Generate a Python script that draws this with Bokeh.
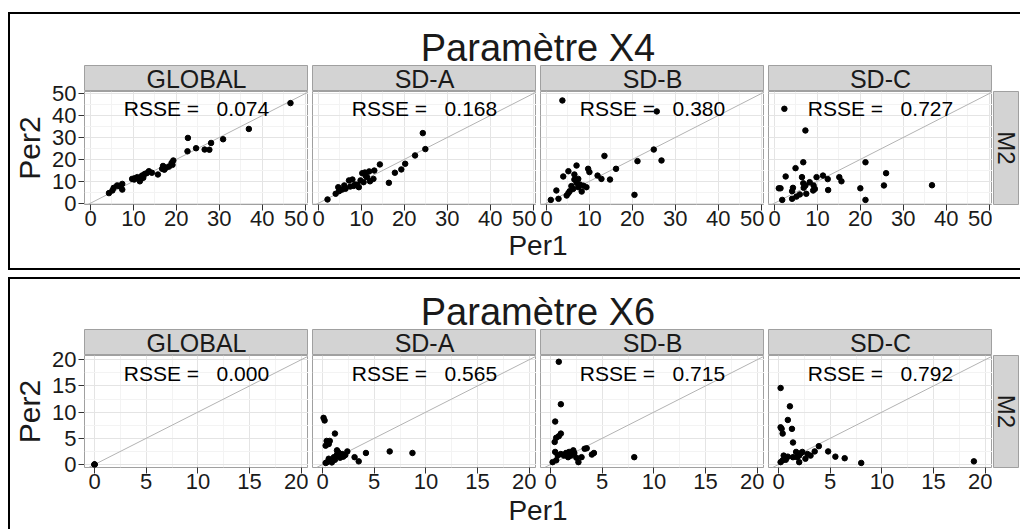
import math
from bokeh.plotting import figure
from bokeh.layouts import row, column
from bokeh.models import Range1d, FixedTicker, Slope, Spacer, Div
from bokeh.core.properties import value
from bokeh.core.validation import silence
from bokeh.core.validation.warnings import MISSING_RENDERERS
from bokeh.embed import file_html
from bokeh.resources import INLINE

silence(MISSING_RENDERERS, True)

# ---------------- data ----------------
facets = ["GLOBAL", "SD-A", "SD-B", "SD-C"]
row_label = "M2"
titles = ["Paramètre X4", "Paramètre X6"]
x_label = "Per1"
y_label = "Per2"
x4_ticks = [0, 10, 20, 30, 40, 50]
x4_minor = [5, 15, 25, 35, 45]
x6_ticks = [0, 5, 10, 15, 20]
x6_minor = [2.5, 7.5, 12.5, 17.5]
rsse_x4 = [0.074, 0.168, 0.380, 0.727]
rsse_x6 = [0.000, 0.565, 0.715, 0.792]

x4_global_per1 = [46.6, 36.9, 30.9, 28.1, 26.6, 27.7, 24.6, 22.7, 22.6, 19.3, 19.1, 18.9, 18.3, 17.6,
                  16.9, 16.7, 17.2, 15.7, 13.6, 13.1, 12.6, 12.0, 11.5, 11.8, 10.9, 10.3, 9.7, 10.2,
                  7.4, 7.0, 6.2, 7.4, 6.6, 5.4, 5.1, 4.3, 14.3, 12.3]
x4_global_per2 = [45.7, 33.9, 29.2, 27.5, 24.5, 24.4, 25.1, 29.8, 23.7, 19.5, 17.5, 18.4, 16.7, 16.2,
                  17.0, 15.7, 15.3, 13.1, 14.6, 13.7, 13.3, 12.6, 10.0, 11.2, 11.9, 11.4, 11.1, 10.8,
                  8.8, 7.6, 8.1, 6.2, 7.9, 7.0, 5.8, 4.6, 13.9, 11.6]

x4_sda_per1 = [24.3, 24.9, 22.5, 20.2, 19.3, 17.8, 16.4, 14.3, 13.0, 11.8, 10.8, 10.2, 12.8, 12.0,
               11.3, 9.8, 9.4, 8.6, 7.9, 7.1, 7.4, 6.0, 4.6, 4.8, 4.0, 2.1, 6.3, 8.2, 9.0, 5.5,
               10.5, 11.0]
x4_sda_per2 = [32.0, 24.7, 21.8, 18.0, 15.4, 13.9, 9.3, 17.7, 14.9, 14.5, 14.0, 13.7, 11.1, 10.0,
               11.9, 10.4, 7.3, 8.5, 10.8, 10.4, 7.6, 8.1, 7.3, 5.5, 4.3, 1.7, 6.6, 7.9, 8.4, 6.2,
               9.6, 12.5]

x4_sdb_per1 = [3.7, 25.7, 25.0, 26.8, 21.2, 13.5, 16.2, 20.5, 14.8, 12.8, 11.9, 9.7, 10.0, 7.0,
               5.1, 3.9, 6.5, 6.5, 7.4, 7.0, 7.8, 9.3, 8.2, 5.8, 5.4, 4.7, 5.1, 2.3, 2.8, 1.0,
               7.4, 6.2, 8.6]
x4_sdb_per2 = [46.9, 41.9, 24.5, 19.5, 19.2, 21.6, 15.7, 3.8, 10.8, 11.1, 12.6, 15.7, 14.2, 17.2,
               14.6, 12.2, 13.1, 10.8, 11.1, 9.3, 8.5, 7.3, 5.3, 7.8, 5.5, 3.5, 4.6, 5.8, 2.0, 1.5,
               7.3, 6.5, 8.0]

x4_sdc_per1 = [2.3, 7.2, 6.7, 4.9, 2.6, 6.4, 6.7, 7.2, 6.8, 8.2, 9.1, 9.4, 9.8, 11.3, 12.4, 15.1,
               15.6, 21.2, 26.0, 25.5, 20.0, 21.2, 36.7, 12.5, 1.4, 1.0, 4.3, 4.1, 4.1, 5.1, 5.9,
               1.8, 7.4, 9.0]
x4_sdc_per2 = [43.1, 33.2, 18.7, 16.0, 12.2, 11.9, 9.1, 8.1, 7.0, 9.6, 8.1, 6.5, 11.9, 12.6, 11.0,
               11.9, 10.0, 18.7, 13.7, 8.1, 6.8, 1.5, 8.2, 6.0, 6.8, 6.8, 7.0, 5.5, 2.0, 3.0, 4.0,
               1.5, 4.3, 5.8]

x6_global_per1 = [0.0, 0.0, 0.0]
x6_global_per2 = [0.0, 0.0, 0.0]

x6_sda_per1 = [0.1, 0.2, 1.2, 0.4, 0.6, 0.7, 0.3, 1.4, 1.5, 2.4, 3.1, 3.5, 4.2, 6.5, 8.7, 0.4, 0.7,
               1.1, 1.5, 1.9, 0.6, 1.2, 1.7, 2.0, 2.2, 0.9, 1.4, 0.3]
x6_sda_per2 = [8.9, 8.4, 5.9, 4.5, 3.9, 4.5, 3.6, 2.7, 2.4, 2.5, 1.4, 0.6, 2.2, 2.5, 2.2, 0.4, 0.8,
               1.4, 1.7, 2.0, 1.1, 0.9, 1.3, 1.5, 1.8, 0.4, 1.9, 0.3]

x6_sdb_per1 = [0.8, 1.0, 0.45, 1.0, 0.8, 0.55, 0.4, 3.5, 3.3, 4.2, 4.0, 8.1, 3.0, 2.7, 2.5, 2.2,
               1.8, 1.5, 1.3, 1.0, 0.7, 0.55, 0.2, 1.7, 2.0, 0.45, 2.3]
x6_sdb_per2 = [19.6, 11.5, 8.2, 5.9, 5.4, 5.1, 4.3, 3.1, 3.0, 2.2, 1.9, 1.4, 1.4, 0.45, 1.3, 2.7,
               2.4, 2.2, 1.7, 2.0, 1.7, 0.8, 0.45, 1.4, 1.7, 2.4, 2.2]

x6_sdc_per1 = [0.2, 1.1, 0.9, 0.2, 0.3, 1.3, 0.4, 1.4, 3.9, 4.8, 5.5, 6.4, 8.0, 18.9, 3.5, 3.1, 2.8,
               2.3, 2.2, 2.0, 1.8, 1.4, 0.9, 0.5, 0.4, 0.2, 0.7, 2.0, 2.6, 1.7]
x6_sdc_per2 = [14.6, 11.1, 8.5, 7.1, 6.8, 6.8, 5.9, 4.2, 3.5, 2.5, 1.5, 1.2, 0.3, 0.6, 2.5, 1.7, 2.0,
               2.4, 2.2, 1.7, 1.4, 1.4, 1.5, 1.7, 0.8, 0.45, 0.9, 0.45, 1.1, 2.4]

x4_per1 = [x4_global_per1, x4_sda_per1, x4_sdb_per1, x4_sdc_per1]
x4_per2 = [x4_global_per2, x4_sda_per2, x4_sdb_per2, x4_sdc_per2]
x6_per1 = [x6_global_per1, x6_sda_per1, x6_sdb_per1, x6_sdc_per1]
x6_per2 = [x6_global_per2, x6_sda_per2, x6_sdb_per2, x6_sdc_per2]

# ---------------- style ----------------
FONT = "Liberation Sans"
BOX_W = 1012
INNER_W = 1010
LEFT_FIRST = 74
GAP = 4
PANEL_W = 224
RIGHT_STRIP = 28
STRIP_H = 26
AXIS_B = 32
STRIP_FILL = "#d3d3d3"
PANEL_BORDER = "#a0a0a0"
TEXT_COL = "#1a1a1a"
SPAN_W = INNER_W - LEFT_FIRST - RIGHT_STRIP


def base_fig(w, h, xr=(0, 1), yr=(0, 1), **kw):
    opts = dict(width=w, height=h, x_range=Range1d(*xr), y_range=Range1d(*yr),
                toolbar_location=None, output_backend="svg",
                x_axis_location=None, y_axis_location=None,
                min_border_left=0, min_border_right=0, min_border_top=0, min_border_bottom=0,
                outline_line_color=None)
    opts.update(kw)
    p = figure(**opts)
    p.grid.visible = False
    return p


def bar(w, h):
    return Div(text="", width=w, height=h,
               styles={"background-color": "black", "margin": "0", "padding": "0"})


def text_div(label, h, size, line_h, pad_top):
    d = Div(text=label, width=SPAN_W, height=h,
            styles={"font-family": FONT, "font-size": size, "line-height": line_h,
                    "padding-top": pad_top, "box-sizing": "border-box", "text-align": "center",
                    "color": TEXT_COL, "white-space": "nowrap", "margin": "0"})
    return row(Spacer(width=LEFT_FIRST, height=h), d, Spacer(width=RIGHT_STRIP, height=h))


def style_axis(ax, ticks):
    ax.ticker = FixedTicker(ticks=ticks)
    ax.axis_line_color = None
    ax.major_tick_line_color = "#333333"
    ax.major_tick_out = 6
    ax.major_tick_in = 0
    ax.minor_tick_line_color = None
    ax.major_label_text_font = FONT
    ax.major_label_text_font_size = "22px"
    ax.major_label_text_color = TEXT_COL


def yaxis_fig(yr, ticks, frame_h):
    # narrow figure that only carries the shared y axis, to the left of the first panel
    p = figure(width=LEFT_FIRST, height=STRIP_H + frame_h + AXIS_B,
               x_range=Range1d(0, 1), y_range=Range1d(*yr),
               toolbar_location=None, output_backend="svg", x_axis_location=None,
               min_border_left=LEFT_FIRST - 1, min_border_right=0,
               min_border_top=STRIP_H, min_border_bottom=AXIS_B, outline_line_color=None)
    p.grid.visible = False
    style_axis(p.yaxis[0], ticks)
    p.yaxis.major_label_standoff = 2
    p.yaxis.axis_label = y_label
    p.yaxis.axis_label_text_font = FONT
    p.yaxis.axis_label_text_font_size = "30px"
    p.yaxis.axis_label_text_font_style = "normal"
    p.yaxis.axis_label_text_color = TEXT_COL
    p.yaxis.axis_label_standoff = 3
    return p


def strip_fig(label, left):
    p = base_fig(left + PANEL_W, STRIP_H, min_border_left=left,
                 background_fill_color=STRIP_FILL, outline_line_color=PANEL_BORDER)
    p.text(x=[0.5], y=[0.5], text=[label], text_font=value(FONT), text_font_size="25px",
           text_align="center", text_baseline="middle", text_color=TEXT_COL)
    return p


def row_strip_fig(label, frame_h):
    p = base_fig(RIGHT_STRIP, frame_h + AXIS_B, min_border_left=1, min_border_right=2,
                 min_border_bottom=AXIS_B, background_fill_color=STRIP_FILL,
                 outline_line_color=PANEL_BORDER)
    p.text(x=[0.5], y=[0.5], text=[label], text_font=value(FONT), text_font_size="24px",
           text_align="center", text_baseline="middle", text_color=TEXT_COL, angle=-math.pi / 2)
    return p


def facet_fig(per1, per2, rsse, xr, yr, ticks, minor, left, frame_h, txt_xy):
    p = figure(width=left + PANEL_W, height=frame_h + AXIS_B,
               x_range=Range1d(*xr), y_range=Range1d(*yr),
               toolbar_location=None, output_backend="svg", y_axis_location=None,
               min_border_left=left, min_border_right=0, min_border_top=0,
               min_border_bottom=AXIS_B, outline_line_color=PANEL_BORDER)
    for g in (p.xgrid, p.ygrid):
        g.ticker = FixedTicker(ticks=ticks, minor_ticks=minor)
        g.grid_line_color = "#e4e4e4"
        g.minor_grid_line_color = "#f3f3f3"
    style_axis(p.xaxis[0], ticks)
    p.xaxis.major_label_standoff = 0
    p.add_layout(Slope(gradient=1, y_intercept=0, line_color="#b3b3b3", line_width=1,
                       level="underlay"))
    p.scatter(per1, per2, size=5.5, color="black")
    p.text(x=[txt_xy[0]], y=[txt_xy[1]],
           text=["RSSE =\u00a0\u00a0\u00a0" + f"{rsse:.3f}"],
           text_font=value(FONT), text_font_size="21px", text_align="center",
           text_baseline="middle", text_color="black")
    return p


def build_box(title, per1s, per2s, rsses, xr, yr, ticks, minor, title_h, title_lh, frame_h,
              per1_h, per1_lh, txt_xy, bottom_line):
    tdiv = text_div(title, title_h, "38px", title_lh, "17px")
    cols = [yaxis_fig(yr, ticks, frame_h)]
    for i, f in enumerate(facets):
        left = 0 if i == 0 else GAP
        cols.append(column(strip_fig(f, left),
                           facet_fig(per1s[i], per2s[i], rsses[i], xr, yr, ticks, minor, left,
                                     frame_h, txt_xy)))
    cols.append(column(Spacer(width=RIGHT_STRIP, height=STRIP_H),
                       row_strip_fig(row_label, frame_h)))
    panels = row(cols)
    pdiv = text_div(x_label, per1_h, "28px", per1_lh, "0px")
    inner = column(tdiv, panels, pdiv)
    inner_h = title_h + STRIP_H + frame_h + AXIS_B + per1_h
    parts = [bar(BOX_W, 2), row(bar(2, inner_h), inner)]
    if bottom_line:
        parts.append(bar(BOX_W, 2))
    return column(parts)


box1 = build_box(titles[0], x4_per1, x4_per2, rsse_x4, (-1.4, 50.8), (-0.6, 51.0),
                 x4_ticks, x4_minor, 51, "34px", 113, 32, "20px", (24.7, 43.4), True)
box2 = build_box(titles[1], x6_per1, x6_per2, rsse_x6, (-0.97, 20.7), (-0.57, 20.8),
                 x6_ticks, x6_minor, 50, "33px", 112, 30, "23px", (9.86, 17.4), False)

content = column(Spacer(width=BOX_W, height=12), box1, Spacer(width=BOX_W, height=7), box2)
root = row(Spacer(width=8, height=10), content)

open("out.html", "w").write(file_html(root, INLINE, title="Paramètres X4 X6"))
